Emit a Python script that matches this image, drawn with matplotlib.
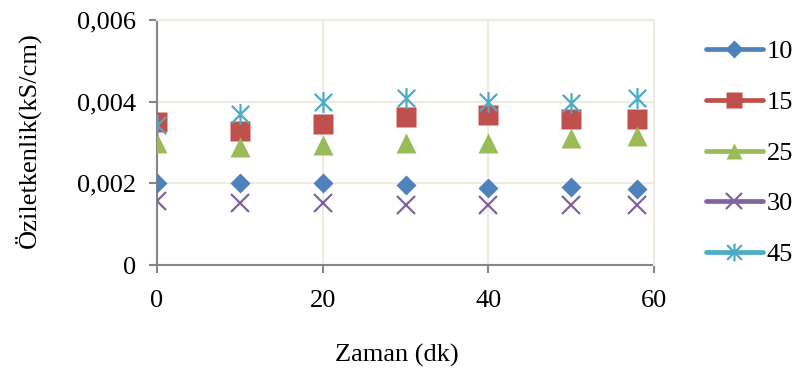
import matplotlib
matplotlib.use("Agg")
import matplotlib.pyplot as plt
from matplotlib.path import Path
from matplotlib.lines import Line2D

plt.rcParams['font.family'] = ['Liberation Serif', 'DejaVu Serif']

# Time (minutes)
zaman = [0, 10, 20, 30, 40, 50, 58]

# Conductivity (kS/cm) for each series
s10 = [0.00201, 0.00200, 0.00200, 0.00196, 0.00189, 0.00190, 0.00187]
s15 = [0.00349, 0.00329, 0.00345, 0.00362, 0.00367, 0.00357, 0.00357]
s25 = [0.00300, 0.00289, 0.00294, 0.00300, 0.00298, 0.00310, 0.00315]
s30 = [0.00157, 0.00153, 0.00151, 0.00148, 0.00148, 0.00148, 0.00148]
s45 = [0.00343, 0.00370, 0.00398, 0.00408, 0.00400, 0.00397, 0.00409]

labels = ['10', '15', '25', '30', '45']
x_ticks = [0, 20, 40, 60]
y_ticks = [0, 0.002, 0.004, 0.006]
y_tick_labels = ['0', '0,002', '0,004', '0,006']

colors = ['#4F81BD', '#C0504D', '#9BBB59', '#8064A2', '#4BACC6']

# asterisk marker: an x with a vertical bar through it
star = Path([(-0.5, -0.5), (0.5, 0.5), (-0.5, 0.5), (0.5, -0.5), (0, -0.6), (0, 0.6)],
            [Path.MOVETO, Path.LINETO, Path.MOVETO, Path.LINETO, Path.MOVETO, Path.LINETO])

markers = ['D', 's', '^', 'x', star]
sizes = [10.5, 14, 14, 13, 15]

FS = 19

fig = plt.figure(figsize=(7.99, 3.74), dpi=100)
ax = fig.add_axes([157 / 799, 1 - 265 / 374, (654 - 157) / 799, (265 - 20) / 374])

grid_col = '#EEECE1'
axis_col = '#868686'


def marker_style(m, ms, col):
    if m == 'x' or isinstance(m, Path):
        return dict(marker=m, ms=ms, mew=1.6, mec=col, mfc=col)
    return dict(marker=m, ms=ms, mec='none', mfc=col)


series = [s10, s15, s25, s30, s45]
handles = []
for vals, lab, col, m, ms in zip(series, labels, colors, markers, sizes):
    ax.plot(zaman, vals, linestyle='none', color=col, zorder=3, **marker_style(m, ms, col))
    handles.append(Line2D([], [], color=col, lw=3.4, solid_capstyle='round',
                          **marker_style(m, ms * 0.85, col)))

ax.set_xlim(0, 60)
ax.set_ylim(0, 0.006)
ax.set_xticks(x_ticks)
ax.set_yticks(y_ticks)
ax.set_yticklabels(y_tick_labels)
ax.tick_params(axis='both', labelsize=FS, color=axis_col, length=6, width=1.5, direction='out')
ax.tick_params(axis='x', pad=12)
ax.tick_params(axis='y', pad=9)

ax.grid(True, color=grid_col, lw=1.5, zorder=0)
for side in ['left', 'bottom']:
    ax.spines[side].set_color(axis_col)
    ax.spines[side].set_linewidth(1.5)
    ax.spines[side].set_zorder(2)
for side in ['top', 'right']:
    ax.spines[side].set_color(grid_col)
    ax.spines[side].set_linewidth(1.5)

fig.text(397 / 799, 1 - 355 / 374, 'Zaman (dk)', ha='center', va='center', fontsize=FS)
fig.text(28 / 799, 1 - 140 / 374, 'Öziletkenlik(kS/cm)', ha='center', va='center',
         rotation=90, fontsize=FS)

leg = fig.legend(handles, labels, loc='upper left', bbox_to_anchor=(706 / 799, 1 - 40 / 374),
                 frameon=False, fontsize=FS, handlelength=2.15, handletextpad=0.15,
                 labelspacing=1.03, borderaxespad=0, borderpad=0)

fig.savefig('out.png', dpi=100)
